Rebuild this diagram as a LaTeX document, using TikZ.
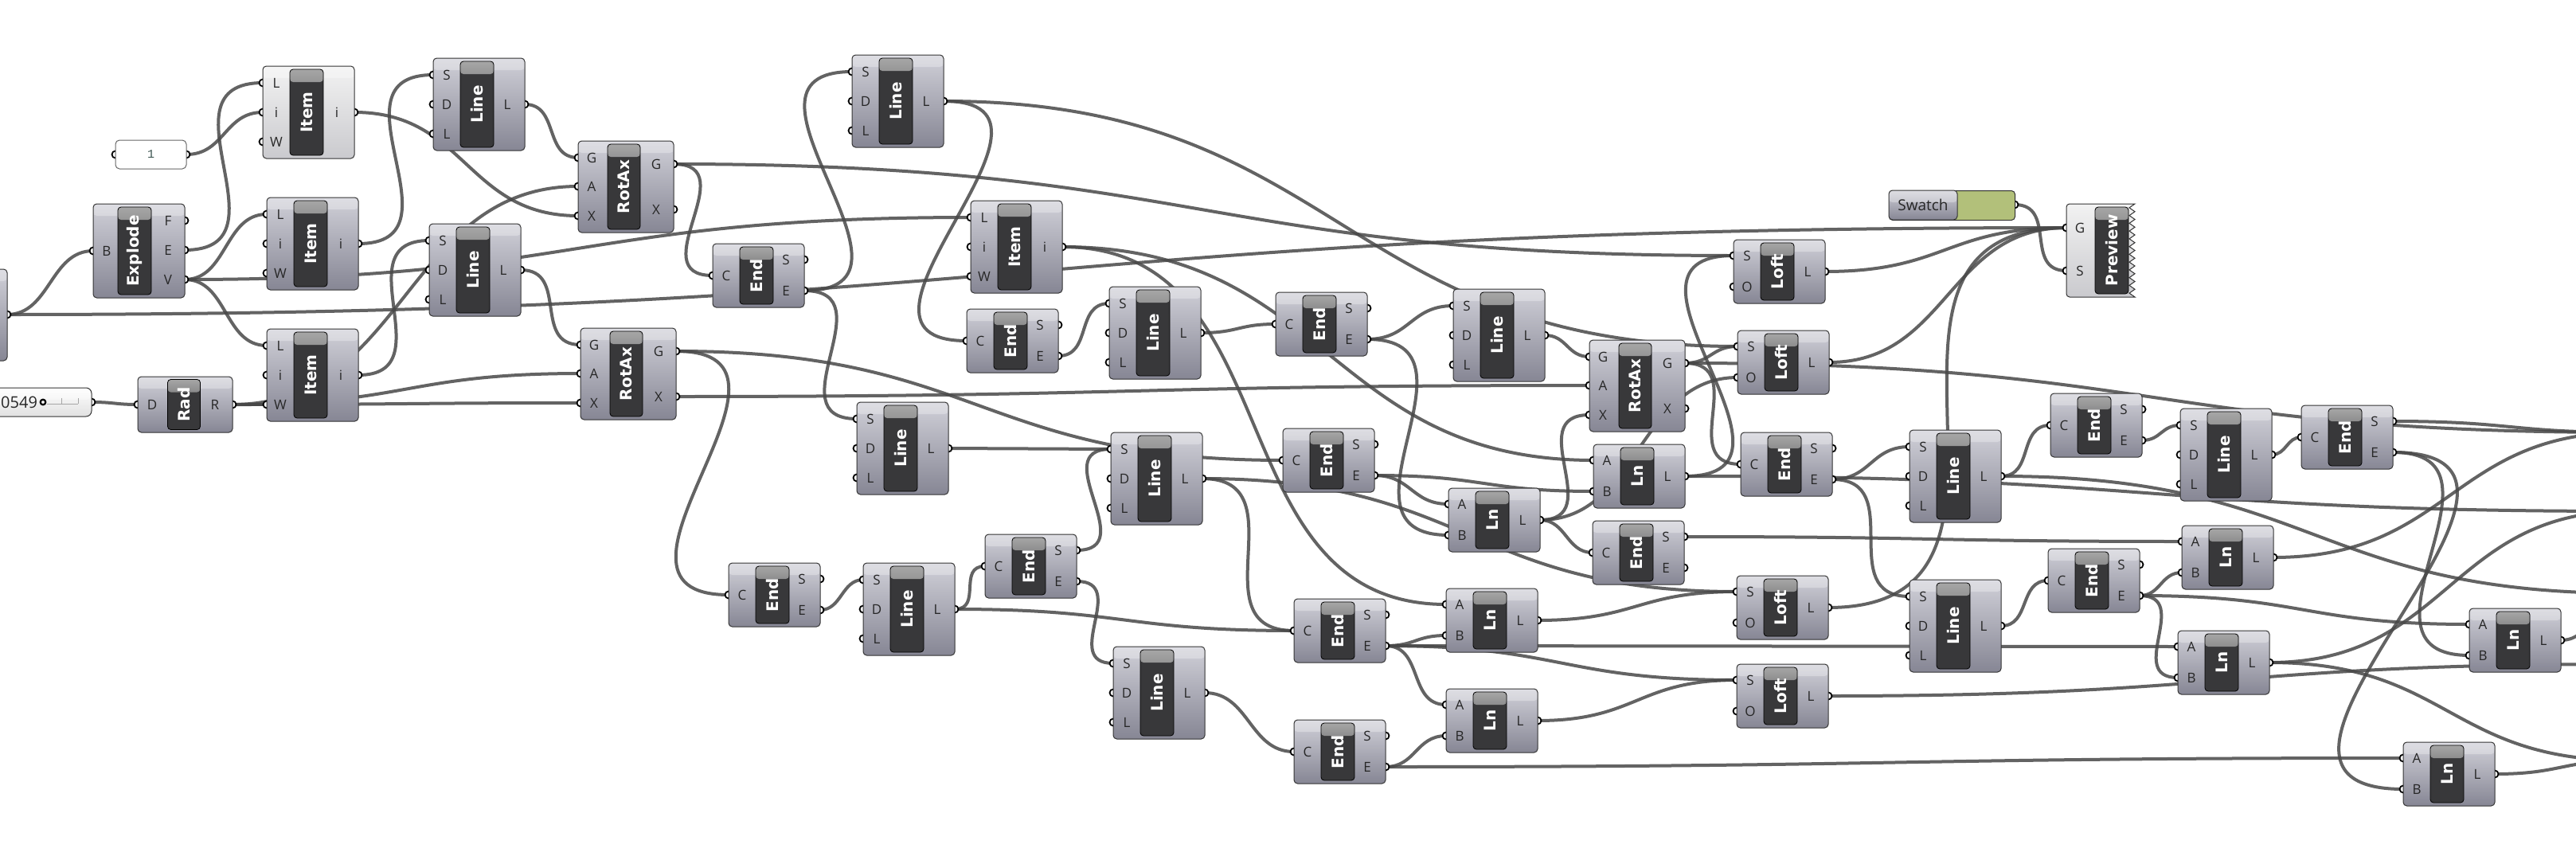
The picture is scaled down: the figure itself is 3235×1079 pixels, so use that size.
\documentclass[tikz,border=0pt]{standalone}
\usepackage{fontspec}
\setmainfont{Open Sans}
\newfontfamily\barfont{DejaVu Sans}
\newfontfamily\numfont{Liberation Mono}
\usetikzlibrary{calc}
\pgfdeclarelayer{background}
\pgfdeclarelayer{wires}
\pgfsetlayers{background,wires,main}
\definecolor{ghtop0}{RGB}{208,208,216}
\definecolor{ghbot0}{RGB}{134,134,148}
\definecolor{ghtop1}{RGB}{242,242,242}
\definecolor{ghbot1}{RGB}{202,202,206}
\definecolor{ghbar}{RGB}{56,56,58}
\definecolor{ghwire}{RGB}{72,72,72}
\definecolor{ghgreen}{RGB}{178,192,122}
\definecolor{ghnum}{RGB}{60,84,80}

\begin{document}
\begin{tikzpicture}[x=1pt,y=-1pt,
    box/.style={draw=black!80, line width=1pt, rounded corners=4.5pt, anchor=north west, inner sep=0pt, outer sep=0pt,
        top color=ghtop0, bottom color=ghbot0,
        path picture={\fill[white,opacity=0.3] (path picture bounding box.north west) rectangle ([yshift=-15pt]path picture bounding box.north east);}},
    bar/.style={draw=black, line width=0.8pt, rounded corners=4pt, fill=ghbar, inner sep=0pt, minimum width=42pt,
        path picture={\shade[top color=black!35, bottom color=ghbar] (path picture bounding box.north west) rectangle ([yshift=-16pt]path picture bounding box.north east);}},
    bartext/.style={rotate=90, text=white, font=\barfont\bfseries\fontsize{20}{20}\selectfont, inner sep=0pt},
    portlabel/.style={text=black!85, font=\fontsize{17}{17}\selectfont, inner sep=0pt},
    port/.style={draw=black, fill=white, line width=1.8pt},
    panel/.style={draw=black!60, line width=1pt, fill=white, rounded corners=5pt, minimum width=89pt, minimum height=36pt, text=ghnum, font=\numfont\fontsize{15}{15}\selectfont},
    wire/.style={draw=ghwire, line width=4pt, draw opacity=0.85}]
    \useasboundingbox (0,0) rectangle (3235,1079);
    \begin{pgfonlayer}{background}
        \fill[white] (0,0) rectangle (3235,1079);
    \end{pgfonlayer}

    \draw[port] (9,395) circle (4.5pt);
    \node[box, minimum width=119pt, minimum height=115pt] (c0) at (-110,338) {};
    \coordinate (c0-o1) at (9,395);

    \draw[port] (145,194) circle (4.5pt) (234,194) circle (4.5pt);
    \node[panel] (num) at (189.5,194) {1};
    \coordinate (num-o1) at (234,194);

    \draw[port] (115,505) circle (4.5pt);
    \node[box, top color=white, bottom color=black!12, rounded corners=7pt, minimum width=150pt, minimum height=36pt] (slider) at (-35,487) {};
    \node[portlabel, anchor=west, font=\fontsize{20}{20}\selectfont] (slidertext) at (1,505) {0549};
    \draw[line width=2.2pt] (54,505) circle (3.3pt);
    \draw[black!35, line width=0.8pt] (59,507) -- (98,507) (77,500) -- (77,507) (98,500) -- (98,507);
    \coordinate (slider-o1) at (115,505);

    \draw[port] (117,315) circle (4.5pt) (232,277) circle (4.5pt) (232,314) circle (4.5pt) (232,351) circle (4.5pt);
    \node[box, minimum width=115pt, minimum height=118pt] (explode) at (117,256) {};
    \node[bar, minimum height=110pt] (explode-bar) at (169,315) {};
    \node[bartext] at (explode-bar) {Explode};
    \node[portlabel] at (134,315) {B};
    \node[portlabel] at (211,277) {F};
    \node[portlabel] at (211,314) {E};
    \node[portlabel] at (211,351) {V};
    \coordinate (explode-i1) at (117,315);
    \coordinate (explode-o1) at (232,277);
    \coordinate (explode-o2) at (232,314);
    \coordinate (explode-o3) at (232,351);

    \draw[port] (173,508) circle (4.5pt) (292,508) circle (4.5pt);
    \node[box, minimum width=119pt, minimum height=70pt] (rad) at (173,473) {};
    \node[bar, minimum width=41pt, minimum height=63pt] (rad-bar) at (231,508) {};
    \node[bartext] at (rad-bar) {Rad};
    \node[portlabel] at (191,508) {D};
    \node[portlabel] at (270,508) {R};
    \coordinate (rad-i1) at (173,508);
    \coordinate (rad-o1) at (292,508);

    \foreach \nm/\px/\py/\ttl/\ia/\ib/\ic/\oa/\lt in {
        item1/330/83/Item/L/i/W/i/1, item2/335/248/Item/L/i/W/i/0, item3/335/413/Item/L/i/W/i/0,
        line1/544/73/Line/S/D/L/L/0, line2/539/281/Line/S/D/L/L/0, line3/1070/69/Line/S/D/L/L/0,
        item4/1219/252/Item/L/i/W/i/0, line4/1393/360/Line/S/D/L/L/0, line5/1076/505/Line/S/D/L/L/0,
        line6/1395/543/Line/S/D/L/L/0, line7/1084/707/Line/S/D/L/L/0, line8/1398/812/Line/S/D/L/L/0,
        line9/1825/363/Line/S/D/L/L/0, line10/2398/540/Line/S/D/L/L/0, line11/2738/513/Line/S/D/L/L/0,
        line12/2398/728/Line/S/D/L/L/0}
    {
        \draw[port] (\px,\py+21) circle (4.5pt) (\px,\py+58) circle (4.5pt) (\px,\py+95) circle (4.5pt) (\px+115,\py+58) circle (4.5pt);
        \node[box, top color=ghtop\lt, bottom color=ghbot\lt, minimum width=115pt, minimum height=116pt] (\nm) at (\px,\py) {};
        \node[bar, minimum height=108pt] (\nm-bar) at (\px+55,\py+58) {};
        \node[bartext] at (\nm-bar) {\ttl};
        \node[portlabel] at (\px+17,\py+21) {\ia};
        \node[portlabel] at (\px+17,\py+58) {\ib};
        \node[portlabel] at (\px+17,\py+95) {\ic};
        \node[portlabel] at (\px+93,\py+58) {\oa};
        \coordinate (\nm-i1) at (\px,\py+21);
        \coordinate (\nm-i2) at (\px,\py+58);
        \coordinate (\nm-i3) at (\px,\py+95);
        \coordinate (\nm-o1) at (\px+115,\py+58);
    }

    \foreach \nm/\px/\py in {rotax1/726/177, rotax2/729/412, rotax3/1996/427}
    {
        \draw[port] (\px,\py+21) circle (4.5pt) (\px,\py+57) circle (4.5pt) (\px,\py+94) circle (4.5pt) (\px+120,\py+29) circle (4.5pt) (\px+120,\py+86) circle (4.5pt);
        \node[box, minimum width=120pt, minimum height=115pt] (\nm) at (\px,\py) {};
        \node[bar, minimum width=41pt, minimum height=107pt] (\nm-bar) at (\px+57.5,\py+57.5) {};
        \node[bartext] at (\nm-bar) {RotAx};
        \node[portlabel] at (\px+17,\py+21) {G};
        \node[portlabel] at (\px+17,\py+57) {A};
        \node[portlabel] at (\px+17,\py+94) {X};
        \node[portlabel] at (\px+98,\py+29) {G};
        \node[portlabel] at (\px+98,\py+86) {X};
        \coordinate (\nm-i1) at (\px,\py+21);
        \coordinate (\nm-i2) at (\px,\py+57);
        \coordinate (\nm-i3) at (\px,\py+94);
        \coordinate (\nm-o1) at (\px+120,\py+29);
        \coordinate (\nm-o2) at (\px+120,\py+86);
    }

    \foreach \nm/\px/\py in {end1/895/306, end2/1214/388, end3/915/707, end4/1237/671, end5/1602/367,
        end6/1611/538, end7/2186/543, end8/2000/654, end9/1625/752, end10/1625/904,
        end11/2575/494, end12/2890/509, end13/2572/689}
    {
        \draw[port] (\px,\py+40) circle (4.5pt) (\px+115,\py+20) circle (4.5pt) (\px+115,\py+59) circle (4.5pt);
        \node[box, minimum width=115pt, minimum height=80pt] (\nm) at (\px,\py) {};
        \node[bar, minimum height=72pt] (\nm-bar) at (\px+55,\py+40) {};
        \node[bartext] at (\nm-bar) {End};
        \node[portlabel] at (\px+17,\py+40) {C};
        \node[portlabel] at (\px+92,\py+20) {S};
        \node[portlabel] at (\px+92,\py+59) {E};
        \coordinate (\nm-i1) at (\px,\py+40);
        \coordinate (\nm-o1) at (\px+115,\py+20);
        \coordinate (\nm-o2) at (\px+115,\py+59);
    }

    \foreach \nm/\px/\py/\ttl/\ia/\ib in {ln1/2001/558/Ln/A/B, ln2/1819/613/Ln/A/B, ln3/1816/739/Ln/A/B,
        ln4/1816/865/Ln/A/B, ln5/2740/660/Ln/A/B, ln6/2735/792/Ln/A/B, ln7/3101/764/Ln/A/B, ln8/3018/932/Ln/A/B,
        loft1/2177/301/Loft/S/O, loft2/2182/415/Loft/S/O, loft3/2181/723/Loft/S/O, loft4/2181/834/Loft/S/O}
    {
        \draw[port] (\px,\py+20) circle (4.5pt) (\px,\py+59) circle (4.5pt) (\px+115,\py+40) circle (4.5pt);
        \node[box, minimum width=115pt, minimum height=80pt] (\nm) at (\px,\py) {};
        \node[bar, minimum height=72pt] (\nm-bar) at (\px+55,\py+40) {};
        \node[bartext] at (\nm-bar) {\ttl};
        \node[portlabel] at (\px+17,\py+20) {\ia};
        \node[portlabel] at (\px+17,\py+59) {\ib};
        \node[portlabel] at (\px+93,\py+40) {L};
        \coordinate (\nm-i1) at (\px,\py+20);
        \coordinate (\nm-i2) at (\px,\py+59);
        \coordinate (\nm-o1) at (\px+115,\py+40);
    }

    \draw[port] (2530,257) circle (4.5pt);
    \node[draw=black!80, line width=1pt, rounded corners=4.5pt, fill=ghgreen, anchor=north west, minimum width=158pt, minimum height=37pt] (swatch) at (2372,239) {};
    \node[box, minimum width=86pt, minimum height=37pt] (swatchlabel) at (2372,239) {};
    \node[portlabel, font=\fontsize{19}{19}\selectfont] at (2415,257) {Swatch};
    \coordinate (swatch-o1) at (2530,257);

    \draw[port] (2595,286) circle (4.5pt) (2595,340) circle (4.5pt);
    \draw[draw=black!80, line width=1pt, top color=ghtop1, bottom color=ghbot1] (2681,256) -- (2599,256) arc (90:180:4pt) -- (2595,369) arc (180:270:4pt) -- (2681,373)
        \foreach \k in {1,...,12} { -- (2674,373-9.75*\k+4.875) -- (2681,373-9.75*\k) } -- cycle;
    \node[bar, minimum height=109pt] (preview) at (2652,314.5) {};
    \node[bartext] at (preview) {Preview};
    \node[portlabel] at (2612,286) {G};
    \node[portlabel] at (2612,340) {S};
    \coordinate (preview-i1) at (2595,286);
    \coordinate (preview-i2) at (2595,340);

    \coordinate (offa) at (3300,543);
    \coordinate (offb) at (3300,642);
    \coordinate (offc) at (3300,834);
    \coordinate (offd) at (3300,745);
    \coordinate (offe) at (3300,955);

    \begin{pgfonlayer}{wires}
    \foreach \src/\dst in {c0-o1/explode-i1, c0-o1/preview-i1, explode-o2/item1-i1, explode-o3/item2-i1,
        explode-o3/item3-i1, explode-o3/item4-i1, num-o1/item1-i2, slider-o1/rad-i1, rad-o1/item3-i3,
        rad-o1/rotax1-i2, rad-o1/rotax2-i2, rad-o1/rotax2-i3, item1-o1/rotax1-i3, item2-o1/line1-i1,
        item3-o1/line2-i1, line1-o1/rotax1-i1, line2-o1/rotax2-i1, rotax1-o1/loft1-i1, rotax1-o1/end1-i1,
        rotax2-o1/end3-i1, rotax2-o1/end6-i1, rotax2-o2/rotax3-i2, end1-o2/line3-i1, end1-o2/line5-i1,
        line3-o1/end2-i1, line3-o1/loft2-i1, item4-o1/ln1-i1, item4-o1/ln3-i1, end2-o2/line4-i1,
        line4-o1/end5-i1, end5-o2/line9-i1, end5-o2/ln2-i2, line9-o1/rotax3-i1, rotax3-o1/loft2-i1,
        rotax3-o1/end7-i1, rotax3-o1/offa, ln2-o1/rotax3-i3, ln2-o1/end8-i1, ln2-o1/loft2-i2,
        end6-o2/ln1-i2, end6-o2/ln2-i1, ln1-o1/loft1-i1, ln1-o1/offb, line5-o1/line6-i1, end4-o1/line6-i1,
        line6-o1/end9-i1, line6-o1/loft3-i1, end3-o2/line7-i1, line7-o1/end4-i1, line7-o1/end9-i1,
        end4-o2/line8-i1, line8-o1/end10-i1, end9-o2/ln3-i2, end9-o2/ln4-i1, end9-o2/loft4-i1,
        end9-o2/ln6-i1, ln3-o1/loft3-i1, end10-o2/ln4-i2, end10-o2/ln8-i1, ln4-o1/loft4-i1,
        loft1-o1/preview-i1, loft2-o1/preview-i1, loft3-o1/preview-i1, loft4-o1/offc, swatch-o1/preview-i2,
        end7-o2/line10-i1, end7-o2/line12-i1, line10-o1/end11-i1, line10-o1/offd, end11-o2/line11-i1,
        line11-o1/end12-i1, end12-o1/offa, end12-o2/ln7-i2, end12-o2/ln8-i2, end8-o1/ln5-i1,
        line12-o1/end13-i1, end13-o2/ln5-i2, end13-o2/ln6-i2, end13-o2/ln7-i1, ln5-o1/offa,
        ln6-o1/offb, ln6-o1/offe, ln7-o1/offd, ln8-o1/offe}
        \draw[wire] let \p1=(\src), \p2=(\dst), \n1={max(0.5*abs(\x2-\x1),0.65*abs(\y2-\y1))} in
            (\p1) .. controls +(\n1,0) and +(-\n1,0) .. (\p2);
    \end{pgfonlayer}
\end{tikzpicture}
\end{document}
